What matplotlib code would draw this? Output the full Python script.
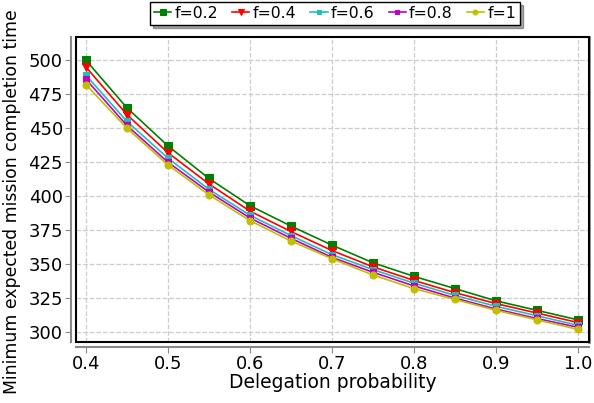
import numpy as np
import matplotlib
matplotlib.use("Agg")
import matplotlib.pyplot as plt
from matplotlib.patches import Rectangle

# Datos
prob = [0.4, 0.45, 0.5, 0.55, 0.6, 0.65, 0.7, 0.75, 0.8, 0.85, 0.9, 0.95, 1.0]
t_f02 = [500, 465, 437, 413, 393, 378, 364, 351, 341, 332, 323, 316, 309]
t_f04 = [495, 460, 432, 409, 389, 374, 360, 348, 338, 329, 321, 314, 307]
t_f06 = [489, 455, 428, 405, 386, 371, 357, 346, 336, 327, 319, 312, 305]
t_f08 = [486, 452, 425, 403, 384, 369, 355, 344, 334, 325, 317, 310, 303.5]
t_f1 = [482, 450, 423, 401, 382, 367, 354, 342, 332, 324, 316, 309, 302]

series = [
    ("f=0.2", t_f02, "green", "s", 6),
    ("f=0.4", t_f04, "red", "v", 6),
    ("f=0.6", t_f06, "#1fbfbf", "s", 5),
    ("f=0.8", t_f08, "#c000c0", "s", 5),
    ("f=1", t_f1, "#c0c000", "o", 5),
]

fig = plt.figure(figsize=(5.94, 4.03), dpi=100)
ax = fig.add_axes([0.128, 0.151, 0.8636, 0.757])

for label, vals, col, mk, ms in series:
    ax.plot(prob, vals, color=col, marker=mk, markersize=ms, lw=1.2,
            markeredgecolor=col, markeredgewidth=0.8, label=label)

ax.set_xlim(0.388, 1.0135)
ax.set_ylim(292.6, 517)
ax.set_xticks([0.4, 0.5, 0.6, 0.7, 0.8, 0.9, 1.0])
ax.set_xticklabels(["0.4", "0.5", "0.6", "0.7", "0.8", "0.9", "1.0"])
ax.set_yticks(np.arange(300, 501, 25))

ax.grid(True, linestyle="--", color="#cccccc", lw=0.9)

# ejes grises desplazados + marco negro
for s in ["left", "bottom"]:
    ax.spines[s].set_position(("outward", 3.5))
    ax.spines[s].set_color("#888888")
    ax.spines[s].set_linewidth(1.5)
ax.spines["right"].set_color("#888888")
ax.spines["right"].set_linewidth(2)
ax.spines["top"].set_visible(False)
ax.add_patch(Rectangle((0, 0), 1, 1, transform=ax.transAxes, fill=False,
                       edgecolor="black", lw=1.5, clip_on=False, zorder=5))

ax.tick_params(axis="both", direction="out", length=4, color="#888888",
               labelsize=13, labelcolor="black", pad=2)

ax.set_xlabel("Delegation probability", fontsize=13.5, labelpad=0)
ax.set_ylabel("Minimum expected mission completion time", fontsize=12.4,
              va="center")
ax.yaxis.set_label_coords(-0.125, 0.459)

leg = ax.legend(loc="lower center", bbox_to_anchor=(0.505, 1.025), ncol=5,
                fontsize=11.3, frameon=True, fancybox=False, shadow=True,
                handlelength=1.1, handletextpad=0.2, columnspacing=0.9,
                borderpad=0.25, borderaxespad=0.3, markerscale=0.7)
leg.get_frame().set_edgecolor("black")
leg.get_frame().set_linewidth(1.0)

fig.savefig("out.png", dpi=100)
